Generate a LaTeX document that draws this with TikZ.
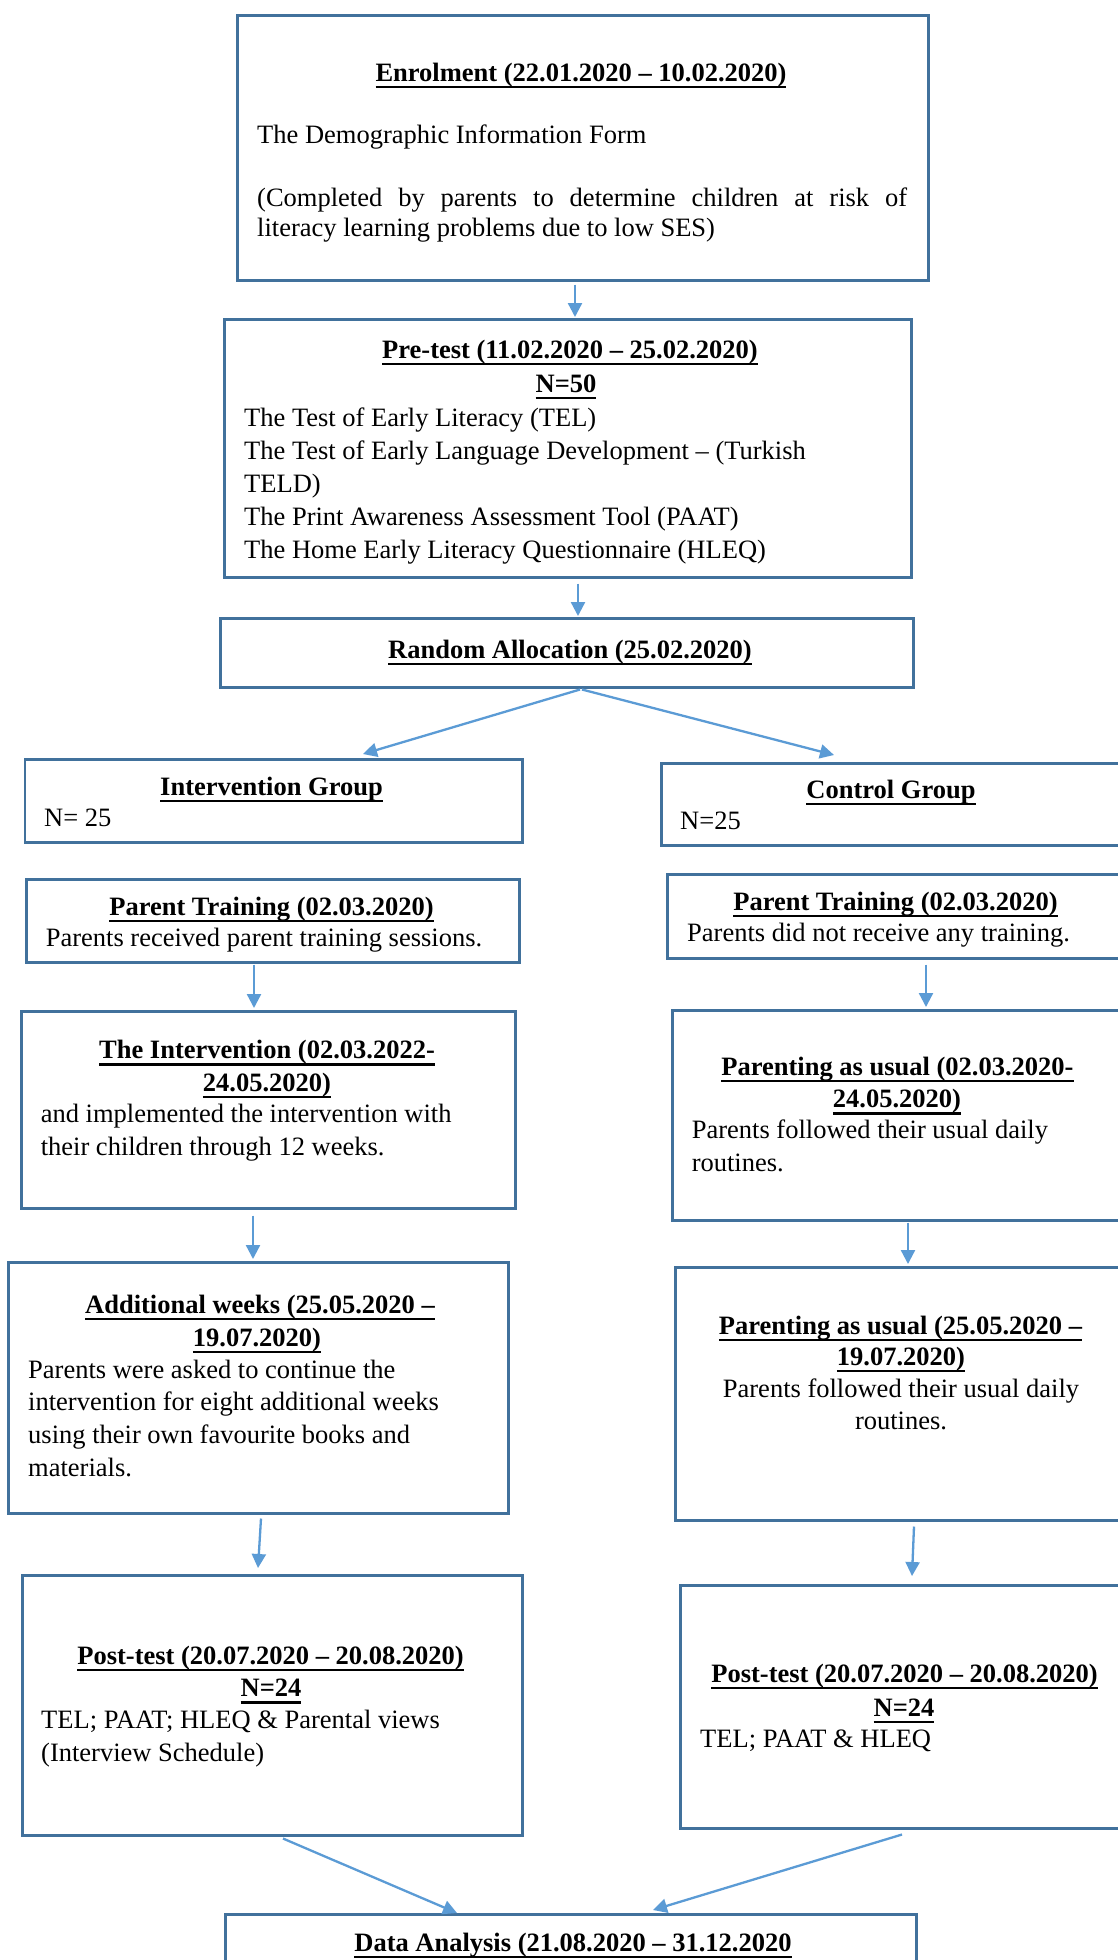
\documentclass[tikz,border=0pt]{standalone}
\usepackage{fontspec}
\setmainfont{Liberation Serif}
\usetikzlibrary{arrows.meta,calc}
\definecolor{boxc}{RGB}{65,113,156}
\definecolor{arrc}{RGB}{91,155,213}
\newcommand\myul[1]{\setbox0=\hbox{#1}\rlap{\rule[-7pt]{\wd0}{2.2pt}}\box0}
\tikzset{
  box/.style={draw=boxc, line width=2.5pt, inner sep=0pt, anchor=north west},
  arr/.style={draw=arrc, line width=2.3pt, -{Triangle[length=14pt,width=14pt]}},
  tl/.style={anchor=base, inner sep=0pt, font=\fontsize{26.5pt}{33pt}\selectfont\bfseries},
  tx/.style={anchor=base west, inner sep=0pt, font=\fontsize{26.5pt}{33pt}\selectfont},
  tc/.style={anchor=base, inner sep=0pt, font=\fontsize{26.5pt}{33pt}\selectfont}
}
\begin{document}
\begin{tikzpicture}[x=1pt,y=-1pt]
\fill[white] (0,0) rectangle (1117,1960);
\useasboundingbox (0,0) rectangle (1117,1960);
% boxes
\node[box, minimum width=691pt, minimum height=265pt] (enrol) at (236,14) {};
\node[box, minimum width=687pt, minimum height=258pt] (pre) at (223,318) {};
\node[box, minimum width=693pt, minimum height=69pt] (rand) at (219,617) {};
\node[box, minimum width=497.5pt, minimum height=83pt] (igrp) at (23.5,758) {};
\node[box, minimum width=462pt, minimum height=82pt] (cgrp) at (660,762) {};
\node[box, minimum width=493pt, minimum height=83pt] (ptl) at (25,878) {};
\node[box, minimum width=456pt, minimum height=84pt] (ptr) at (666,873) {};
\node[box, minimum width=494pt, minimum height=197pt] (intl) at (20,1010) {};
\node[box, minimum width=451pt, minimum height=210pt] (pau1) at (671,1009) {};
\node[box, minimum width=500pt, minimum height=251pt] (addl) at (7,1261) {};
\node[box, minimum width=448pt, minimum height=253pt] (pau2) at (674,1266) {};
\node[box, minimum width=500pt, minimum height=260pt] (postl) at (21,1574) {};
\node[box, minimum width=443pt, minimum height=243pt] (postr) at (679,1584) {};
\node[box, minimum width=691pt, minimum height=90pt] (data) at (224,1913) {};
% enrolment
\node[tl] (e1) at (581,81) {\myul{Enrolment (22.01.2020 – 10.02.2020)}};
\node[tx] (e2) at (257,143) {The Demographic Information Form};
\node[tx] (e3) at (257,206) {\hbox to 650pt{(Completed by parents to determine children at risk of}};
\node[tx] (e4) at (257,236) {literacy learning problems due to low SES)};
% pre-test
\node[tl] (p1) at (570,358) {\myul{Pre-test (11.02.2020 – 25.02.2020)}};
\node[tl] (p2) at (566,392) {\myul{N=50}};
\node[tx] (p3) at (244,426) {The Test of Early Literacy (TEL)};
\node[tx] (p4) at (244,459) {The Test of Early Language Development – (Turkish};
\node[tx] (p5) at (244,492) {TELD)};
\node[tx] (p6) at (244,525) {The Print Awareness Assessment Tool (PAAT)};
\node[tx] (p7) at (244,558) {The Home Early Literacy Questionnaire (HLEQ)};
% random
\node[tl] (r1) at (570,658) {\myul{Random Allocation (25.02.2020)}};
% groups
\node[tl] (g1) at (271.5,795) {\myul{Intervention Group}};
\node[tx] (g2) at (44,826) {N= 25};
\node[tl] (g3) at (891,798) {\myul{Control Group}};
\node[tx] (g4) at (680,829) {N=25};
% parent training
\node[tl] (t1) at (271.5,915) {\myul{Parent Training (02.03.2020)}};
\node[tx] (t2) at (45.6,946) {Parents received parent training sessions.};
\node[tl] (t3) at (895.5,910) {\myul{Parent Training (02.03.2020)}};
\node[tx] (t4) at (687,941.5) {Parents did not receive any training.};
% intervention
\node[tl] (i1) at (267,1058.5) {\myul{The Intervention (02.03.2022-}};
\node[tl] (i2) at (267,1091) {\myul{24.05.2020)}};
\node[tx] (i3) at (40.6,1122) {and implemented the intervention with};
\node[tx] (i4) at (40.6,1155) {their children through 12 weeks.};
% parenting as usual 1
\node[tl] (u1) at (897.5,1075) {\myul{Parenting as usual (02.03.2020-}};
\node[tl] (u2) at (897,1107.6) {\myul{24.05.2020)}};
\node[tx] (u3) at (691.6,1138) {Parents followed their usual daily};
\node[tx] (u4) at (691.6,1171) {routines.};
% additional weeks
\node[tl] (a1) at (260,1313) {\myul{Additional weeks (25.05.2020 –}};
\node[tl] (a2) at (257,1346) {\myul{19.07.2020)}};
\node[tx] (a3) at (28,1378) {Parents were asked to continue the};
\node[tx] (a4) at (28,1410) {intervention for eight additional weeks};
\node[tx] (a5) at (28,1443) {using their own favourite books and};
\node[tx] (a6) at (28,1476) {materials.};
% parenting as usual 2
\node[tl] (v1) at (900.5,1334) {\myul{Parenting as usual (25.05.2020 –}};
\node[tl] (v2) at (901,1365) {\myul{19.07.2020)}};
\node[tc] (v3) at (901,1397) {Parents followed their usual daily};
\node[tc] (v4) at (901,1429) {routines.};
% post-test
\node[tl] (s1) at (270.6,1664) {\myul{Post-test (20.07.2020 – 20.08.2020)}};
\node[tl] (s2) at (271,1696.5) {\myul{N=24}};
\node[tx] (s3) at (41,1728.5) {TEL; PAAT; HLEQ \& Parental views};
\node[tx] (s4) at (41,1761) {(Interview Schedule)};
\node[tl] (q1) at (904.6,1682) {\myul{Post-test (20.07.2020 – 20.08.2020)}};
\node[tl] (q2) at (904,1716) {\myul{N=24}};
\node[tx] (q3) at (700,1747) {TEL; PAAT \& HLEQ};
% data analysis
\node[tl] (d1) at (573,1951) {\myul{Data Analysis (21.08.2020 – 31.12.2020}};
% arrows
\draw[arr] ($(enrol.south -| 575,0)+(0,3)$) -- ($(pre.north -| 575,0)+(0,-1)$);
\draw[arr] ($(pre.south -| 578,0)+(0,5)$) -- ($(rand.north -| 578,0)+(0,-1)$);
\draw[arr] ($(rand.south -| 580,0)+(0,1)$) -- ($(igrp.north -| 363,0)+(0,-4)$);
\draw[arr] ($(rand.south -| 582,0)+(0,1)$) -- ($(cgrp.north -| 834,0)+(0,-7)$);
\draw[arr] ($(ptl.south -| 254,0)+(0,1)$) -- ($(intl.north -| 254,0)+(0,-2)$);
\draw[arr] ($(ptr.south -| 926,0)+(0,5)$) -- ($(pau1.north -| 926,0)+(0,-2)$);
\draw[arr] ($(intl.south -| 253,0)+(0,6)$) -- ($(addl.north -| 253,0)+(0,-2)$);
\draw[arr] ($(pau1.south -| 908,0)+(0,1)$) -- ($(pau2.north -| 908,0)+(0,-2)$);
\draw[arr] ($(addl.south -| 261,0)+(0,4)$) -- ($(postl.north -| 258,0)+(0,-6)$);
\draw[arr] ($(pau2.south -| 914,0)+(0,5)$) -- ($(postr.north -| 912,0)+(0,-8)$);
\draw[arr] ($(postl.south -| 283,0)+(0,2)$) -- (data.north -| 457,0);
\draw[arr] ($(postr.south -| 902,0)+(0,5)$) -- ($(data.north -| 653,0)+(0,-3)$);
\end{tikzpicture}
\end{document}
